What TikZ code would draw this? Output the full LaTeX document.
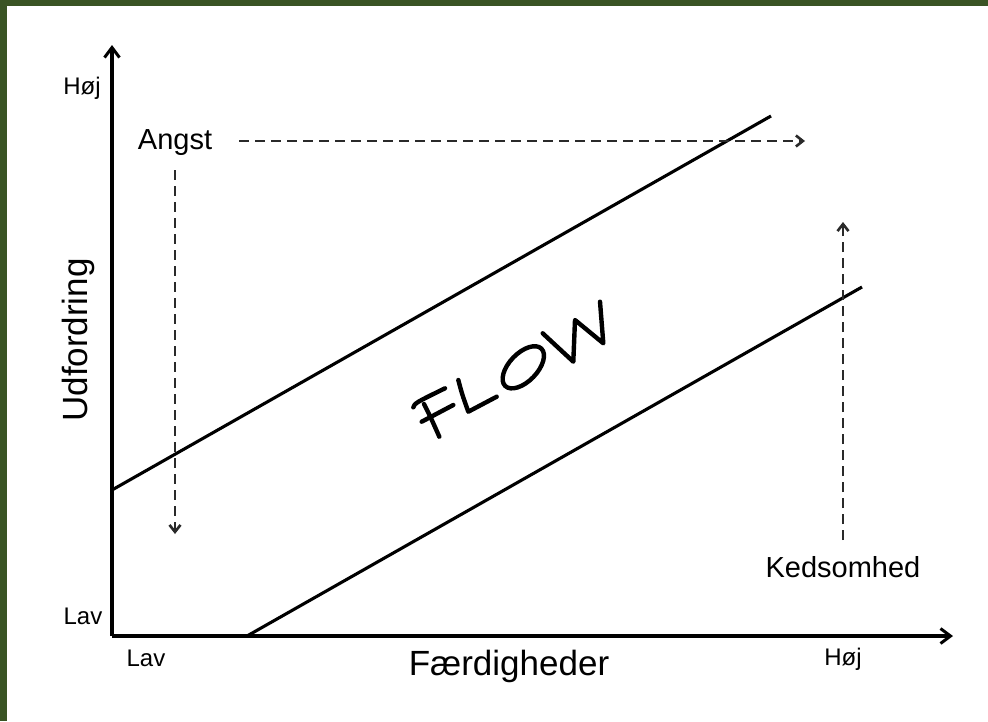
\documentclass[tikz,border=0pt]{standalone}
\usepackage{fontspec}
\setmainfont{Liberation Sans}
\usetikzlibrary{arrows.meta}
\definecolor{framegreen}{HTML}{3A5424}
\definecolor{dashgray}{HTML}{2A2A2A}
\tikzset{
  axis/.style={line width=3.4pt,-{Straight Barb[length=10pt,width=15pt,line width=3pt]}},
  diag/.style={line width=3.1pt},
  darrow/.style={line width=2.8pt,draw=dashgray,dash pattern=on 10pt off 6pt,-{Straight Barb[length=7pt,width=11pt,line width=2.6pt]}},
  small/.style={font=\fontsize{24}{24}\selectfont,inner sep=0pt},
  mid/.style={font=\fontsize{29}{29}\selectfont,inner sep=0pt},
  big/.style={font=\fontsize{35}{35}\selectfont,inner sep=0pt},
  hand/.style={line width=4.4pt,line cap=round,line join=round}
}
\begin{document}
\begin{tikzpicture}[x=1pt,y=-1pt]
\useasboundingbox (0,0) rectangle (988,721);
\fill[framegreen] (0,0) rectangle (988,721);
\fill[white] (7,6) rectangle (988,721);
% axes
\coordinate (O) at (112,636);
\coordinate (ytip) at (112,45);
\coordinate (xtip) at (953,636);
\draw[axis] (O) -- (ytip);
\draw[axis] (O) -- (xtip);
% diagonal lines
\coordinate (u1) at (112,490);
\coordinate (u2) at (771,116);
\coordinate (l1) at (247,636);
\coordinate (l2) at (862,287);
\draw[diag] (u1) -- (u2);
\draw[diag] (l1) -- (l2);
% labels
\node[small,anchor=base] (hojy) at (82,94) {Høj};
\node[small,anchor=base] (lavy) at (83,624) {Lav};
\node[small,anchor=base] (lavx) at (146,666) {Lav};
\node[small,anchor=base] (hojx) at (843,665) {Høj};
\node[mid,anchor=base] (angst) at (175,149) {Angst};
\node[mid,anchor=base] (keds) at (843,577) {Kedsomhed};
\node[big,anchor=base,rotate=90] (udf) at (87,340) {Udfordring};
\node[big,anchor=base] (faerd) at (509,675) {Færdigheder};
% dashed arrows
\coordinate (h1) at (239,141);
\coordinate (h2) at (805,141);
\coordinate (v1) at (175,170);
\coordinate (v2) at (175,534);
\coordinate (k1) at (843,540);
\coordinate (k2) at (843,222);
\draw[darrow] (h1) -- (h2);
\draw[darrow] (v1) -- (v2);
\draw[darrow] (k1) -- (k2);
% FLOW handwritten
\draw[hand] (413.3,407.3) .. controls (415,403) .. (445,388.3);
\draw[hand] (424,404) .. controls (431,418) .. (439.3,436.7);
\draw[hand] (421.7,421.7) -- (453.3,405);
\draw[hand] (458.3,380) .. controls (462,394) .. (468.3,411.7) -- (496.7,396.7);
\draw[hand,rotate around={46:(523.3,367.3)}] (523.3,367.3) ellipse [x radius=26pt,y radius=14pt];
\draw[hand] (542.7,333.3) -- (573.3,361.7) -- (575,320) -- (603.3,343.3) -- (600,301.7);
\end{tikzpicture}
\end{document}
